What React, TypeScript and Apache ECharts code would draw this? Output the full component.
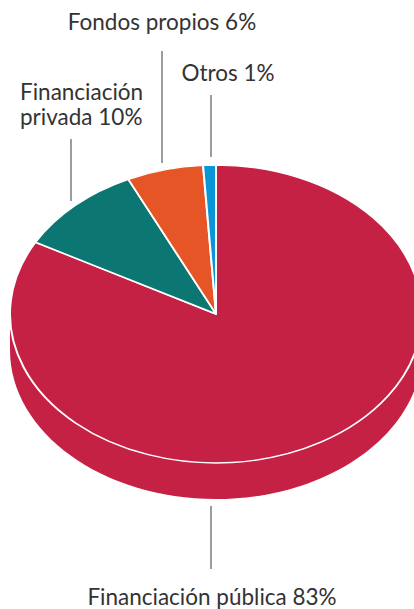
import React, { useEffect, useRef } from "react";
import * as echarts from "echarts";

const categories = ["Financiación pública", "Financiación privada", "Fondos propios", "Otros"];
const shares = [83, 10, 6, 1];
const colors = ["#C42144", "#0B7672", "#E65525", "#0A96D6"];
const labelTexts = ["Financiación pública 83%", "Financiación\nprivada 10%", "Fondos propios 6%", "Otros 1%"];

const CX = 216, CY = 314, RX = 206, RY = 149, DEPTH = 36;
const FONT = "Lato";
const TEXT = "#333333";
const FONT_SIZE = 22.5;

const total = shares.reduce((a, b) => a + b, 0);

function renderSlice(params: any, api: any) {
  const i = params.dataIndex;
  let before = 0;
  for (let k = 0; k < i; k++) before += shares[k];
  const value = api.value(0);
  const start = -Math.PI / 2 + (before / total) * Math.PI * 2;
  const end = start + (value / total) * Math.PI * 2;
  return {
    type: "group",
    x: CX,
    y: CY,
    scaleY: RY / RX,
    children: [
      {
        type: "sector",
        shape: { cx: 0, cy: 0, r0: 0, r: RX, startAngle: start, endAngle: end, clockwise: true },
        style: { fill: colors[i], stroke: "#ffffff", lineWidth: 2, lineJoin: "round" },
      },
    ],
  };
}

function renderSide() {
  return {
    type: "group",
    children: [
      { type: "ellipse", shape: { cx: CX, cy: CY + DEPTH, rx: RX, ry: RY }, style: { fill: colors[0] } },
      { type: "rect", shape: { x: CX - RX, y: CY, width: RX * 2, height: DEPTH }, style: { fill: colors[0] } },
    ],
  };
}

const leader = (x: number, y1: number, y2: number) => ({
  type: "line",
  silent: true,
  shape: { x1: x, y1, x2: x, y2 },
  style: { stroke: "#3a3a3a", lineWidth: 1 },
});

const label = (text: string, x: number, y: number, align: string, lineHeight = 27) => ({
  type: "text",
  silent: true,
  x,
  y,
  style: { text, fill: TEXT, font: `${FONT_SIZE}px ${FONT}`, fontFamily: FONT, fontSize: FONT_SIZE, align, verticalAlign: "top", lineHeight },
});

export default function App() {
  const ref = useRef<HTMLDivElement>(null);
  useEffect(() => {
    document.body.style.margin = "0";
    const chart = echarts.init(ref.current!, undefined, { renderer: "svg" });
    chart.setOption({
      animation: false,
      backgroundColor: "#ffffff",
      series: [
        { type: "custom", coordinateSystem: "none", silent: true, data: [total], renderItem: renderSide, z: 1 },
        {
          type: "custom",
          coordinateSystem: "none",
          silent: true,
          data: shares.map((v, i) => ({ name: categories[i], value: [v] })),
          renderItem: renderSlice,
          z: 2,
        },
      ],
      graphic: [
        leader(71, 139, 201),
        leader(162, 51, 163),
        leader(211, 95, 157),
        leader(211, 506, 569),
        label(labelTexts[2], 162, 8, "center"),
        label(labelTexts[3], 228, 59, "center"),
        label(labelTexts[1], 20, 79, "left", 25),
        label(labelTexts[0], 212, 583, "center"),
      ],
    });
    return () => chart.dispose();
  }, []);
  return <div ref={ref} style={{ width: 414, height: 609 }} />;
}
